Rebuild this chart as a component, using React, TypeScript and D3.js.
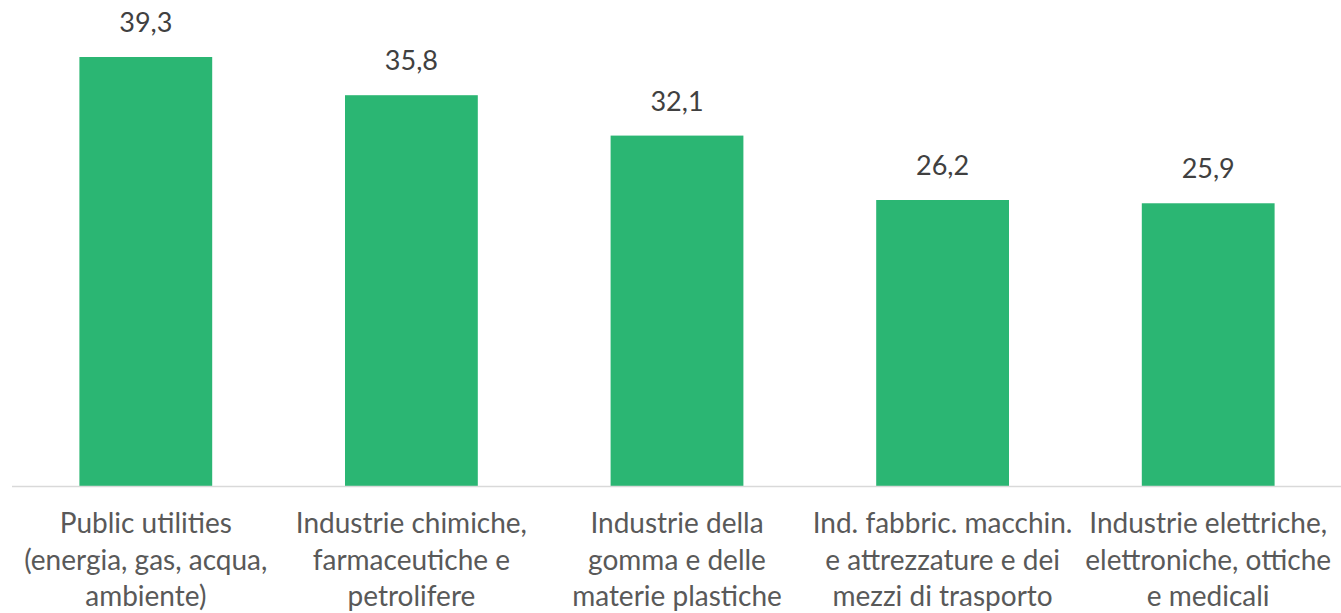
import { useEffect, useRef } from 'react';
import * as d3 from 'd3';

const categories = [
  'Public utilities',
  'Industrie chimiche',
  'Industrie gomma',
  'Ind. fabbric. macchin.',
  'Industrie elettriche',
];
const labelLines = [
  ['Public utilities', '(energia, gas, acqua,', 'ambiente)'],
  ['Industrie chimiche,', 'farmaceutiche e', 'petrolifere'],
  ['Industrie della', 'gomma e delle', 'materie plastiche'],
  ['Ind. fabbric. macchin.', 'e attrezzature e dei', 'mezzi di trasporto'],
  ['Industrie elettriche,', 'elettroniche, ottiche', 'e medicali'],
];
const values = [39.3, 35.8, 32.1, 26.2, 25.9];

const W = 1341;
const H = 613;

export default function App() {
  const ref = useRef<SVGSVGElement>(null);

  useEffect(() => {
    const svg = d3.select(ref.current);
    svg.selectAll('*').remove();

    const x = d3.scaleBand().domain(categories).range([13, 1341]).paddingInner(0.5).paddingOuter(0.25);
    const y = d3.scaleLinear().domain([0, 39.3]).range([486, 57]);
    const font = 'Lato, "Open Sans", sans-serif';

    svg
      .append('g')
      .selectAll('rect')
      .data(values)
      .join('rect')
      .attr('x', (d, i) => x(categories[i])!)
      .attr('y', (d) => y(d))
      .attr('width', x.bandwidth())
      .attr('height', (d) => y(0) - y(d))
      .attr('fill', '#2bb673');

    // baseline
    svg
      .append('line')
      .attr('x1', 12)
      .attr('x2', W)
      .attr('y1', y(0) + 0.5)
      .attr('y2', y(0) + 0.5)
      .attr('stroke', '#d9d9d9')
      .attr('stroke-width', 1.5);

    // value labels
    svg
      .append('g')
      .selectAll('text')
      .data(values)
      .join('text')
      .attr('x', (d, i) => x(categories[i])! + x.bandwidth() / 2)
      .attr('y', (d) => y(d) - 25)
      .attr('text-anchor', 'middle')
      .attr('font-family', font)
      .attr('font-size', 27)
      .attr('fill', '#404040')
      .text((d) => d3.format('.1f')(d).replace('.', ','));

    // category labels
    const g = svg.append('g');
    labelLines.forEach((lines, i) => {
      const cx = x(categories[i])! + x.bandwidth() / 2;
      const t = g
        .append('text')
        .attr('text-anchor', 'middle')
        .attr('font-family', font)
        .attr('font-size', 28)
        .attr('fill', '#595959');
      lines.forEach((l, j) => {
        t.append('tspan').attr('x', cx).attr('y', 533 + j * 36.5).text(l);
      });
    });
  }, []);

  return (
    <div style={{ position: 'fixed', left: 0, top: 0, width: W, height: H, overflow: 'hidden' }}>
      <svg ref={ref} width={W} height={H} style={{ display: 'block', background: '#fff' }} />
    </div>
  );
}
